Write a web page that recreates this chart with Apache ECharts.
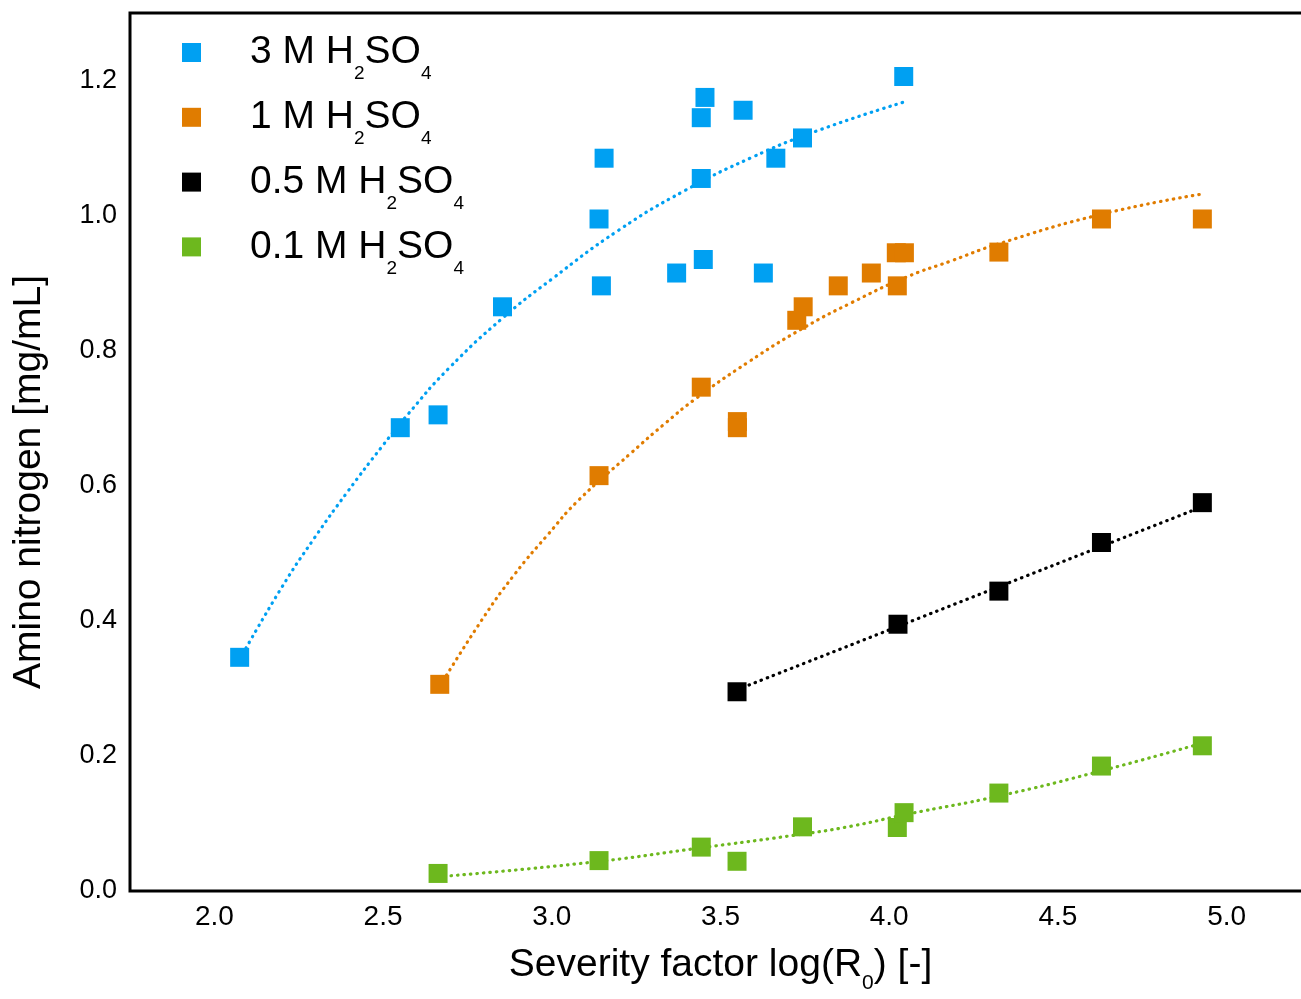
<!DOCTYPE html>
<html><head><meta charset="utf-8">
<script src="https://cdn.jsdelivr.net/npm/echarts@6/dist/echarts.min.js"></script>
<style>html,body{margin:0;padding:0;background:#fff}#c{width:1301px;height:999px}</style>
</head><body><div id="c"></div>
<script>
// ---- data ----
const seriesNames = ['3 M H2SO4', '1 M H2SO4', '0.5 M H2SO4', '0.1 M H2SO4'];
const legendPrefix = ['3 M H', '1 M H', '0.5 M H', '0.1 M H'];
const colors = ['#00A0F2', '#E07C00', '#000000', '#6DB81E'];

const m3X = [2.075, 2.551, 2.663, 2.854, 3.140, 3.147, 3.155, 3.370, 3.443, 3.454, 3.443, 3.449, 3.567, 3.627, 3.664, 3.743, 4.043];
const m3Y = [0.346, 0.686, 0.705, 0.865, 0.995, 0.896, 1.085, 0.915, 1.145, 1.175, 1.055, 0.935, 1.156, 0.915, 1.085, 1.115, 1.206];

const m1X = [2.668, 3.140, 3.443, 3.550, 3.550, 3.726, 3.745, 3.849, 3.947, 4.021, 4.045, 4.024, 4.325, 4.629, 4.928];
const m1Y = [0.306, 0.615, 0.746, 0.695, 0.686, 0.845, 0.865, 0.896, 0.915, 0.945, 0.945, 0.896, 0.946, 0.995, 0.995];

const m05X = [3.549, 4.026, 4.325, 4.629, 4.928];
const m05Y = [0.295, 0.395, 0.444, 0.516, 0.575];

const m01X = [2.663, 3.140, 3.443, 3.549, 3.743, 4.024, 4.044, 4.325, 4.629, 4.928];
const m01Y = [0.026, 0.045, 0.065, 0.044, 0.095, 0.094, 0.116, 0.145, 0.185, 0.215];

// trend lines
const t3X = [2.075, 2.199, 2.297, 2.396, 2.495, 2.574, 2.693, 2.856, 3.000, 3.197, 3.394, 3.592, 3.789, 4.043];
const t3Y = [0.343, 0.449, 0.523, 0.592, 0.657, 0.706, 0.773, 0.849, 0.906, 0.978, 1.037, 1.086, 1.126, 1.168];

const t1X = [2.668, 2.791, 2.890, 2.989, 3.078, 3.236, 3.335, 3.424, 3.582, 3.740, 3.888, 4.051, 4.184, 4.323, 4.629, 4.928];
const t1Y = [0.303, 0.400, 0.469, 0.528, 0.578, 0.649, 0.692, 0.728, 0.783, 0.832, 0.871, 0.909, 0.933, 0.958, 1.002, 1.032];

const t05X = [3.549, 4.928];
const t05Y = [0.298, 0.569];

const t01X = [2.663, 3.108, 3.443, 3.739, 3.888, 4.046, 4.328, 4.629, 4.928];
const t01Y = [0.021, 0.042, 0.064, 0.084, 0.096, 0.113, 0.141, 0.178, 0.219];

const xTickStep = 0.5;
const yTickStep = 0.2;

// ---- build ----
const zip = (xs, ys) => xs.map((x, i) => [x, ys[i]]);
const markers = [[m3X, m3Y], [m1X, m1Y], [m05X, m05Y], [m01X, m01Y]];
const trends = [[t3X, t3Y], [t1X, t1Y], [t05X, t05Y], [t01X, t01Y]];

const FONT = '"Liberation Sans", Arial, sans-serif';
const series = [];
trends.forEach((t, i) => {
  series.push({
    name: 'fit ' + seriesNames[i], type: 'line', data: zip(t[0], t[1]),
    smooth: true, showSymbol: false, symbol: 'none', z: 2, silent: true,
    lineStyle: { color: colors[i], width: 3.2, type: [0.5, 6], cap: 'round' }
  });
});
markers.forEach((m, i) => {
  series.push({
    name: seriesNames[i], type: 'scatter', data: zip(m[0], m[1]),
    symbol: 'rect', symbolSize: 19, z: 3,
    itemStyle: { color: colors[i], opacity: 1 }
  });
});

const isMult = (v, s) => Math.abs(v / s - Math.round(v / s)) < 1e-6;

const chart = echarts.init(document.getElementById('c'), null, { renderer: 'canvas' });
chart.setOption({
  animation: false,
  backgroundColor: '#fff',
  textStyle: { fontFamily: FONT },
  grid: {
    left: 130, top: 13, width: 1181, height: 878,
    outerBoundsMode: 'none', containLabel: false,
    show: true, borderColor: '#000', borderWidth: 3, backgroundColor: 'transparent'
  },
  legend: {
    orient: 'vertical', left: 182, top: 33, padding: 0, itemGap: 14.3,
    itemWidth: 19, itemHeight: 19, icon: 'rect',
    data: seriesNames,
    formatter: function (name) {
      const i = seriesNames.indexOf(name);
      return '{f|' + legendPrefix[i] + '}{s|2}{n|SO}{s|4}';
    },
    textStyle: {
      color: '#000', fontFamily: FONT,
      rich: {
        f: { fontSize: 39, lineHeight: 62, color: '#000', fontFamily: FONT, padding: [0, 0, 0, 44] },
        n: { fontSize: 39, lineHeight: 62, color: '#000', fontFamily: FONT },
        s: { fontSize: 19, color: '#000', fontFamily: FONT, verticalAlign: 'bottom' }
      }
    }
  },
  xAxis: {
    type: 'value', min: 1.75, max: 5.25, interval: 0.25,
    axisLine: { show: false }, axisTick: { show: false }, splitLine: { show: false },
    axisLabel: {
      color: '#000', fontSize: 28, fontFamily: FONT, margin: 12,
      formatter: v => isMult(v, xTickStep) ? v.toFixed(1) : ''
    },
    name: '{a|Severity factor log(R}{s|0}{a|) [-]}',
    nameLocation: 'middle', nameGap: 46,
    nameTextStyle: {
      color: '#000', fontFamily: FONT,
      rich: {
        a: { fontSize: 39, lineHeight: 57, color: '#000', fontFamily: FONT },
        s: { fontSize: 21, color: '#000', fontFamily: FONT, verticalAlign: 'bottom' }
      }
    }
  },
  yAxis: {
    type: 'value', min: 0, max: 1.3, interval: 0.2,
    axisLine: { show: false }, axisTick: { show: false }, splitLine: { show: false },
    axisLabel: {
      color: '#000', fontSize: 27, fontFamily: FONT, margin: 13,
      formatter: v => isMult(v, yTickStep) ? v.toFixed(1) : ''
    },
    name: 'Amino nitrogen [mg/mL]',
    nameLocation: 'middle', nameGap: 81,
    nameTextStyle: { color: '#000', fontSize: 39, fontFamily: FONT, padding: [0, 60, 0, 0] }
  },
  series: series
});
</script>
</body></html>
